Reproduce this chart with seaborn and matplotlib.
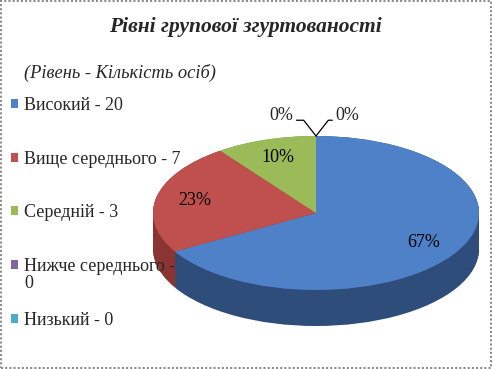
import numpy as np
import matplotlib
matplotlib.use("Agg")
import matplotlib.pyplot as plt
import seaborn as sns
from matplotlib.patches import Patch, Rectangle

sns.set_theme(style="white")
plt.rcParams['font.family'] = 'serif'
plt.rcParams['font.serif'] = ['Liberation Serif', 'DejaVu Serif']

levels = ['Високий', 'Вище середнього', 'Середній', 'Нижче середнього', 'Низький']
counts = [20, 7, 3, 0, 0]
top_colors = ['#4F81C9', '#C0504D', '#9BBB59', '#8064A2', '#4BACC6']
side_colors = ['#2E4D7B', '#8B3533', '#6E8A3A', '#5A4778', '#327A8D']

legend_labels = [f'{lv} - {c}' for lv, c in zip(levels, counts)]
legend_labels[3] = 'Нижче середнього -'   # the "0" wraps onto the next line

W, H = 492, 369
fig = plt.figure(figsize=(W / 100, H / 100), dpi=100)
fig.patch.set_facecolor('white')

# pie geometry in pixels
cx, cy, rx, ry = 316, 213, 163, 77
depth = 36 / ry

ax = fig.add_axes([0, 0, 1, 1])

# side of the 3d pie: stacked layers
for k in np.linspace(depth, 0, 40):
    ax.pie(counts, colors=side_colors, startangle=90, counterclock=False,
           center=(0, -k), wedgeprops=dict(linewidth=0))

wedges, texts, autotexts = ax.pie(
    counts, colors=top_colors, startangle=90, counterclock=False,
    autopct=lambda p: f'{p:.0f}%' if p > 0 else '', pctdistance=0.76,
    wedgeprops=dict(linewidth=0), textprops=dict(fontsize=13, color='black'))

ax.set_aspect('auto')
ax.set_xlim(-cx / rx, (W - cx) / rx)
ax.set_ylim(-(H - cy) / ry, cy / ry)
ax.axis('off')

# zero slices labels at the top of the pie
ax.annotate('0%', xy=(0, 1), xytext=(-0.14, 1.26), ha='right', va='center',
            fontsize=13, arrowprops=dict(arrowstyle='-', color='black', lw=0.9, relpos=(1, 0.25),
                                         connectionstyle='angle,angleA=0,angleB=-52,rad=0',
                                         shrinkA=0, shrinkB=0))
ax.annotate('0%', xy=(0, 1), xytext=(0.12, 1.26), ha='left', va='center',
            fontsize=13, arrowprops=dict(arrowstyle='-', color='black', lw=0.9, relpos=(0, 0.25),
                                         connectionstyle='angle,angleA=0,angleB=52,rad=0',
                                         shrinkA=0, shrinkB=0))

fig.text(245 / W, 1 - 27 / H, 'Рівні групової згуртованості', ha='center', va='center',
         fontsize=15.5, fontweight='bold', fontstyle='italic')
fig.text(24 / W, 1 - 73 / H, '(Рівень - Кількість осіб)', ha='left', va='center',
         fontsize=13.3, fontstyle='italic')

handles = [Patch(facecolor=c, edgecolor='none') for c in top_colors]
leg = fig.legend(handles, legend_labels, loc='upper left', bbox_to_anchor=(11 / W, 1 - 97 / H),
                 frameon=False, fontsize=13, labelspacing=2.03, handlelength=0.4,
                 handleheight=0.4, handletextpad=0.33, borderaxespad=0, borderpad=0)
fig.text(24 / W, 1 - 284 / H, '0', ha='left', va='center', fontsize=13)

fig.add_artist(Rectangle((0.002, 0.003), 0.995, 0.994, transform=fig.transFigure,
                         fill=False, edgecolor='#8C8C8C', lw=1.5, linestyle=(0, (1, 1))))

fig.savefig('out.png', dpi=100)
